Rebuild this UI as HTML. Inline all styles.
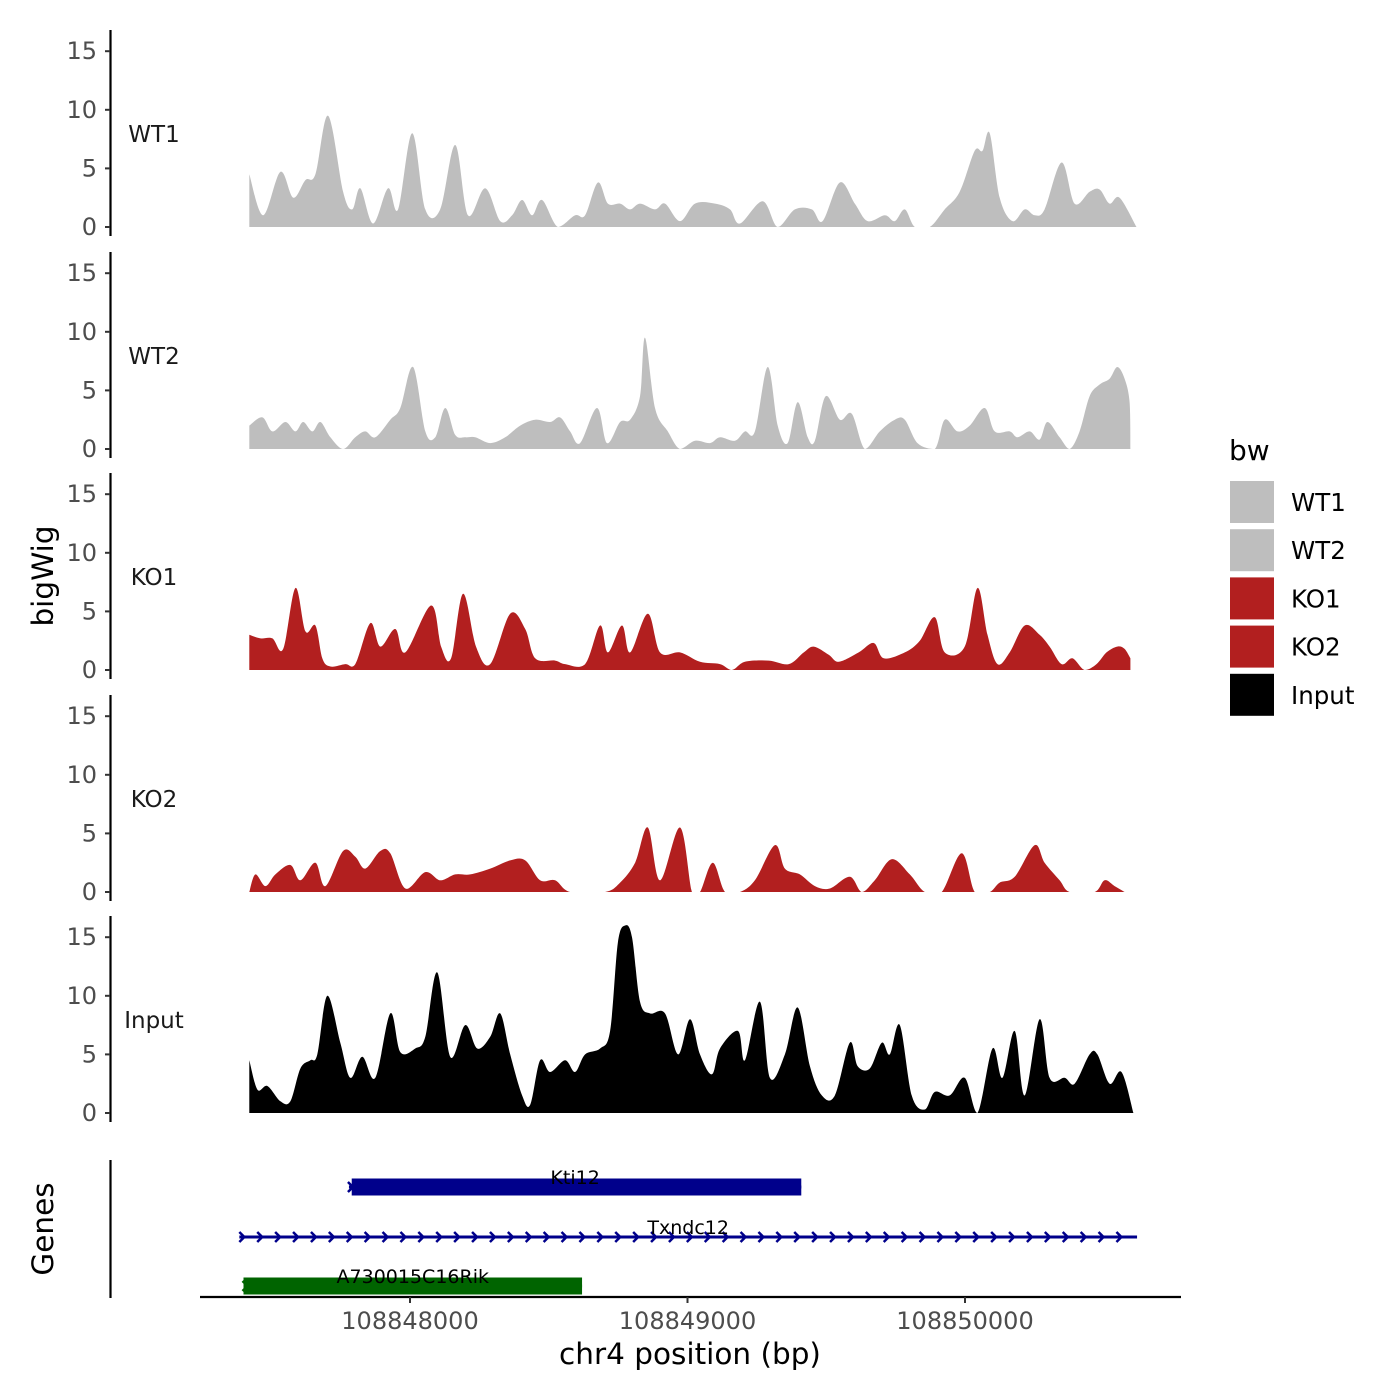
<!DOCTYPE html>
<html><head><meta charset="utf-8"><style>
body{margin:0;background:#fff}
svg{display:block;font-family:"DejaVu Sans","Liberation Sans",sans-serif}
</style></head><body>
<svg id="chart" width="1400" height="1400" viewBox="0 0 1400 1400"></svg>
<script>
// ---- data ----
const startBp = 108847421;
const trackNames = ["WT1","WT2","KO1","KO2","Input"];
const trackColors = ["#bebebe","#bebebe","#b21f1f","#b21f1f","#000000"];
const yTicks = [0,5,10,15];
const xTicks = [108848000,108849000,108850000];
const xTickLabels = ["108848000","108849000","108850000"];
const wt1Pos = [0,50,112,158,202,238,284,338,371,400,446,500,536,587,634,688,742,788,850,904,947,983,1019,1055,1112,1174,1210,1256,1292,1336,1372,1408,1462,1498,1552,1606,1678,1732,1768,1850,1904,1966,2027,2066,2128,2182,2228,2290,2326,2362,2398,2452,2506,2560,2614,2642,2668,2704,2750,2794,2830,2866,2927,2974,3028,3064,3100,3136,3197];
const wt1Val = [4.5,1,4.7,2.5,4,4.5,9.5,3,1.5,3.3,0.3,3.3,1.5,8,1.5,1.5,7,1,3.3,0.5,1,2.3,1,2.3,0,1,1,3.8,2,2,1.5,2,1.5,2,0.5,2,2,1.5,0.3,2.2,0,1.5,1.5,0.5,3.8,2,0.5,1,0.5,1.5,0,0,1.5,3,6.5,6.5,8,2.5,0.5,1.5,1,1.5,5.5,2,3,3.2,2,2.5,0];
const wt2Pos = [0,47,83,130,166,194,227,256,292,338,382,418,454,508,544,590,634,670,706,742,778,814,868,922,976,1030,1084,1120,1156,1192,1253,1289,1336,1372,1408,1426,1462,1508,1552,1606,1660,1696,1750,1786,1822,1868,1904,1940,1976,2012,2038,2077,2128,2171,2218,2272,2326,2362,2408,2470,2506,2552,2596,2650,2686,2740,2768,2812,2848,2876,2920,2956,2992,3028,3064,3100,3128,3154,3172,3175];
const wt2Val = [2,2.7,1.5,2.3,1.5,2.3,1.5,2.3,1,0,1,1.5,1,2.5,3.5,7,1.5,1,3.5,1.2,1,1,0.5,1,2,2.5,2.3,2.7,1.5,0.5,3.5,0.5,2.3,2.5,4.5,9.5,3.5,1.5,0,0.7,0.5,1,0.7,1.5,1.5,7,2,0.5,4,1,0.7,4.5,2.5,3,0,1.5,2.5,2.5,0.5,0,2.5,1.5,2,3.5,1.5,1.5,1,1.5,0.8,2.3,1,0,1.5,4.5,5.5,6,7,6,4,0];
const ko1Pos = [0,40,83,122,166,202,238,263,292,346,382,436,472,526,562,655,691,727,770,817,868,940,994,1030,1102,1138,1210,1264,1292,1343,1372,1436,1480,1552,1624,1696,1739,1786,1872,1944,1998,2034,2088,2124,2196,2250,2286,2362,2416,2470,2506,2578,2624,2660,2696,2740,2794,2848,2884,2927,2966,3010,3053,3089,3128,3154,3175];
const ko1Val = [3,2.7,2.7,1.8,7,3.3,3.8,1,0.3,0.5,0.5,4,2,3.5,1.5,5.5,2,1,6.5,2,0.5,4.8,3.5,1,0.8,0.5,0.5,3.8,1.5,3.8,1.5,4.8,1.5,1.5,0.7,0.5,0,0.7,0.8,0.5,1.5,2,1.3,0.7,1.5,2.3,1,1.5,2.5,4.5,1.5,2,7,3,0.5,1.5,3.8,3,2,0.5,1,0,0.5,1.5,2,1.8,1];
const ko2Pos = [0,22,58,94,148,184,238,274,338,382,418,472,508,562,634,688,742,796,868,940,994,1048,1102,1156,1282,1336,1390,1436,1480,1552,1595,1624,1670,1714,1768,1822,1894,1930,1984,2038,2092,2164,2207,2254,2315,2380,2434,2495,2567,2614,2668,2704,2758,2830,2866,2920,2956,3046,3082,3118,3154];
const ko2Val = [0,1.5,0.5,1.5,2.3,1,2.5,0.5,3.5,3,2,3.5,3.3,0.3,1.7,1,1.5,1.5,2,2.7,2.7,1,1,0,0,0.8,2.5,5.5,1,5.5,0,0,2.5,0,0,1,4,2,1.5,0.5,0.3,1.3,0,1,2.8,1.5,0,0,3.3,0,0,0.8,1.3,4,2.5,1,0,0,1,0.5,0];
const inputPos = [0,29,65,112,148,184,220,245,281,328,364,407,454,508,544,598,634,677,724,778,821,868,904,940,983,1012,1048,1084,1138,1174,1210,1264,1300,1328,1354,1379,1408,1444,1498,1545,1588,1624,1667,1696,1761,1786,1840,1876,1930,1976,2020,2063,2110,2164,2192,2236,2279,2308,2344,2387,2434,2470,2524,2578,2624,2678,2714,2758,2794,2848,2884,2938,2974,3028,3056,3100,3143,3186];
const inputVal = [4.5,2,2.3,1,1,3.8,4.5,5,10,6,3,4.8,3,8.5,5.2,5.5,6.5,12,4.8,7.5,5.5,6.5,8.5,5,1.5,0.7,4.5,3.5,4.5,3.5,5,5.5,7,14.5,16,15,9.5,8.5,8.5,5,8,5,3.3,5.5,7,4.5,9.5,3,5,9,4,1.5,1.5,6,4,3.8,6,5,7.5,1.5,0.3,1.8,1.5,3,0,5.5,3,7,1.5,8,3,3,2.5,5,5,2.5,3.5,0];
const geneNames = ["Kti12","Txndc12","A730015C16Rik"];
const geneStart = [108847780,108847385,108847400];
const geneEnd = [108849410,108850620,108848620];
const geneCdsStart = [108847790,null,108847400];

// ---- scales ----
const NS="http://www.w3.org/2000/svg";
const svg=document.getElementById('chart');
function xs(bp){return 410+(bp-108848000)*0.2775;}
const baselines=[227,449,670,892,1113];
const pxPerUnit=11.72;
function mk(tag,attrs,parent){const e=document.createElementNS(NS,tag);for(const k in attrs)e.setAttribute(k,attrs[k]);(parent||svg).appendChild(e);return e;}
function txt(s,attrs){const e=mk('text',attrs);e.textContent=s;return e;}

const allPos=[wt1Pos,wt2Pos,ko1Pos,ko2Pos,inputPos];
const allVal=[wt1Val,wt2Val,ko1Val,ko2Val,inputVal];

trackNames.forEach((name,t)=>{
  const b=baselines[t];
  const ys=v=>b-Math.min(v,16)*pxPerUnit;
  const P=allPos[t],V=allVal[t];
  const pts=P.map((p,i)=>[xs(startBp+p),ys(V[i])]);
  let d='M'+pts[0][0].toFixed(1)+','+b+' L'+pts[0][0].toFixed(1)+','+pts[0][1].toFixed(1);
  for(let i=0;i<pts.length-1;i++){
    const p0=pts[Math.max(0,i-1)],p1=pts[i],p2=pts[i+1],p3=pts[Math.min(pts.length-1,i+2)];
    const c1x=p1[0]+(p2[0]-p0[0])/6,c1y=Math.min(b,p1[1]+(p2[1]-p0[1])/6);
    const c2x=p2[0]-(p3[0]-p1[0])/6,c2y=Math.min(b,p2[1]-(p3[1]-p1[1])/6);
    d+=` C${c1x.toFixed(1)},${c1y.toFixed(1)} ${c2x.toFixed(1)},${c2y.toFixed(1)} ${p2[0].toFixed(1)},${p2[1].toFixed(1)}`;
  }
  d+=' L'+pts[pts.length-1][0].toFixed(1)+','+b+' Z';
  const a=mk('path',{d:d,fill:trackColors[t]});
  
  
  const ax=mk('line',{x1:110.5,x2:110.5,y1:b-197,y2:b+9,stroke:'#000','stroke-width':2.2});
  
  
  yTicks.forEach(v=>{
    const y=ys(v);
    const tk=mk('line',{x1:105,x2:110,y1:y,y2:y,stroke:'#333','stroke-width':2});
    
    
    const l=txt(String(v),{x:97,y:y+8,'text-anchor':'end','font-size':24,fill:'#4d4d4d'});
    
    
  });
  const lab=txt(name,{x:154,y:b-85,'text-anchor':'middle','font-size':23,fill:'#1a1a1a'});
  
  
});

// genes panel
const gax=mk('line',{x1:110.5,x2:110.5,y1:1160,y2:1298,stroke:'#000','stroke-width':2.2});


const xax=mk('line',{x1:200,x2:1181,y1:1297,y2:1297,stroke:'#000','stroke-width':2.2});


const geneY=[1187,1237,1286];
const geneCol=["#00008b","#00008b","#006400"];
function chevron(x,y,col,nm){
  const c=mk('path',{d:`M${x-3},${y-5} L${x+2},${y} L${x-3},${y+5}`,fill:'none',stroke:col,'stroke-width':2.5});
  
  
}
geneNames.forEach((g,i)=>{
  const x1=xs(geneStart[i]),x2=xs(geneEnd[i]),y=geneY[i];
  const ln=mk('line',{x1:x1,x2:x2,y1:y,y2:y,stroke:geneCol[i],'stroke-width':3});
  
  
  if(geneCdsStart[i]!==null){
    const r=mk('rect',{x:xs(geneCdsStart[i]),y:y-8.5,width:x2-xs(geneCdsStart[i]),height:17,fill:geneCol[i]});
    
    
    chevron(x1+2,y,geneCol[i],'strand-arrow');
  } else {
    for(let x=x1+3;x<=x2;x+=17.9)chevron(x,y,geneCol[i],'strand-arrow');
  }
  const gl=txt(g,{x:(x1+x2)/2,y:y-3,'text-anchor':'middle','font-size':19,fill:'#000'});
  
  
});
xTicks.forEach((bp,i)=>{
  const x=xs(bp);
  const tk=mk('line',{x1:x,x2:x,y1:1297,y2:1303,stroke:'#333','stroke-width':2});
  
  
  const l=txt(xTickLabels[i],{x:x,y:1329,'text-anchor':'middle','font-size':24,fill:'#4d4d4d'});
  
  
});
const xt=txt('chr4 position (bp)',{x:690,y:1364,'text-anchor':'middle','font-size':29.5,fill:'#000'});


const yt=txt('bigWig',{x:0,y:0,'text-anchor':'middle','font-size':29.5,fill:'#000',transform:'translate(53,576) rotate(-90)'});


const gt=txt('Genes',{x:0,y:0,'text-anchor':'middle','font-size':29.5,fill:'#000',transform:'translate(53,1229) rotate(-90)'});



// legend
const lt=txt('bw',{x:1229,y:460,'font-size':28,fill:'#000'});


const legCols=["#bebebe","#bebebe","#b21f1f","#b21f1f","#000000"];
trackNames.forEach((n,i)=>{
  const y=481+i*48.2;
  const r=mk('rect',{x:1230,y:y,width:44,height:42,fill:legCols[i]});
  
  
  const l=txt(n,{x:1291,y:y+30,'font-size':24.5,fill:'#000'});
  
  
});
</script>
</body></html>
